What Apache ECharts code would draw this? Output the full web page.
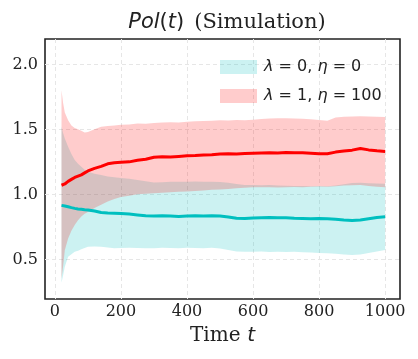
<!DOCTYPE html>
<html>
<head>
<meta charset="utf-8">
<script src="https://cdn.jsdelivr.net/npm/echarts@6/dist/echarts.min.js"></script>
<style>
  html, body { margin: 0; padding: 0; background: #fff; }
  #vis { width: 418px; height: 359px; }
</style>
</head>
<body>
<div id="vis"></div>
<script>
// time steps
const time = [20, 25, 30, 40, 50, 60, 70, 80, 90, 100, 120, 140, 160, 180, 200,
  225, 250, 275, 300, 325, 350, 375, 400, 425, 450, 475, 500, 525, 550, 575, 600,
  625, 650, 675, 700, 725, 750, 775, 800, 825, 850, 875, 900, 925, 950, 975, 1000];

// lambda = 0, eta = 0 (cyan)
const cyanMean = [0.915, 0.912, 0.91, 0.905, 0.898, 0.892, 0.888, 0.885, 0.882, 0.88, 0.872, 0.86, 0.857, 0.855, 0.852,
  0.848, 0.842, 0.836, 0.834, 0.836, 0.834, 0.83, 0.833, 0.835, 0.834, 0.836, 0.833, 0.826, 0.816, 0.815, 0.818,
  0.82, 0.822, 0.82, 0.82, 0.817, 0.815, 0.813, 0.815, 0.813, 0.808, 0.803, 0.799, 0.802, 0.812, 0.822, 0.828];
const cyanLow = [0.32, 0.38, 0.443, 0.52, 0.54, 0.558, 0.567, 0.577, 0.588, 0.597, 0.598, 0.596, 0.592, 0.586, 0.588,
  0.59, 0.587, 0.585, 0.586, 0.59, 0.588, 0.585, 0.59, 0.588, 0.586, 0.589, 0.584, 0.572, 0.56, 0.558, 0.558,
  0.56, 0.557, 0.559, 0.556, 0.558, 0.555, 0.552, 0.548, 0.546, 0.543, 0.538, 0.533, 0.537, 0.548, 0.56, 0.572];
const cyanHigh = [1.52, 1.47, 1.43, 1.366, 1.31, 1.264, 1.235, 1.212, 1.19, 1.174, 1.158, 1.148, 1.138, 1.132, 1.125,
  1.12, 1.11, 1.1, 1.092, 1.094, 1.096, 1.097, 1.097, 1.098, 1.096, 1.097, 1.095, 1.09, 1.08, 1.072, 1.071,
  1.07, 1.072, 1.068, 1.066, 1.064, 1.064, 1.062, 1.065, 1.063, 1.068, 1.078, 1.088, 1.09, 1.086, 1.084, 1.082];

// lambda = 1, eta = 100 (red)
const redMean = [1.07, 1.075, 1.08, 1.1, 1.115, 1.13, 1.14, 1.15, 1.165, 1.18, 1.2, 1.215, 1.235, 1.243, 1.247,
  1.25, 1.262, 1.27, 1.285, 1.29, 1.288, 1.292, 1.296, 1.298, 1.302, 1.305, 1.31, 1.312, 1.31, 1.314, 1.316,
  1.318, 1.32, 1.318, 1.322, 1.32, 1.32, 1.316, 1.312, 1.312, 1.325, 1.333, 1.34, 1.353, 1.342, 1.335, 1.33];
const redLow = [0.35, 0.45, 0.57, 0.66, 0.72, 0.764, 0.8, 0.83, 0.85, 0.865, 0.895, 0.92, 0.945, 0.965, 0.98,
  0.99, 1.0, 1.005, 1.008, 1.012, 1.016, 1.02, 1.022, 1.026, 1.03, 1.035, 1.038, 1.042, 1.046, 1.05, 1.054,
  1.055, 1.054, 1.052, 1.055, 1.056, 1.054, 1.058, 1.06, 1.058, 1.062, 1.068, 1.07, 1.072, 1.065, 1.058, 1.055];
const redHigh = [1.8, 1.7, 1.63, 1.57, 1.53, 1.51, 1.5, 1.49, 1.475, 1.48, 1.5, 1.52, 1.525, 1.53, 1.535,
  1.538, 1.545, 1.543, 1.548, 1.552, 1.555, 1.552, 1.558, 1.562, 1.565, 1.566, 1.57, 1.568, 1.572, 1.57, 1.574,
  1.58, 1.584, 1.586, 1.585, 1.584, 1.582, 1.578, 1.572, 1.566, 1.592, 1.597, 1.598, 1.6, 1.598, 1.596, 1.595];

const xTicks = [0, 200, 400, 600, 800, 1000];
const yTicks = [0.5, 1.0, 1.5, 2.0];

const legendNames = {
  lam0: '{i|λ} = 0, {i|η} = 0',
  lam1: '{i|λ} = 1, {i|η} = 100'
};

const chart = echarts.init(document.getElementById('vis'), null, { renderer: 'canvas' });

function bandSeries(name, low, high, color) {
  return {
    name: name,
    type: 'custom',
    itemStyle: { color: color },
    encode: { x: 0, y: [1, 2] },
    data: time.map((t, i) => [t, low[i], high[i]]),
    renderItem: function (params, api) {
      if (params.dataIndex !== 0) return null;
      const pts = [];
      for (let i = 0; i < time.length; i++) pts.push(api.coord([time[i], high[i]]));
      for (let i = time.length - 1; i >= 0; i--) pts.push(api.coord([time[i], low[i]]));
      return { type: 'polygon', shape: { points: pts }, style: { fill: color }, silent: true };
    }
  };
}

function meanSeries(name, values, color) {
  return {
    name: name + '_mean',
    type: 'line',
    data: time.map((t, i) => [t, values[i]]),
    showSymbol: false,
    lineStyle: { color: color, width: 3 },
    itemStyle: { color: color },
    silent: true
  };
}

const grid = { left: 45, right: 18, top: 39, bottom: 60 };
const gridLine = { show: true, lineStyle: { color: '#e6e6e6', width: 1, type: [4, 3] } };

chart.setOption({
  animation: false,
  backgroundColor: '#fff',
  title: {
    text: '{it|Pol}{n|(}{it|t}{n|)}  {s|(Simulation)}',
    left: 222,
    top: 7,
    textAlign: 'center',
    textStyle: {
      fontWeight: 'normal',
      rich: {
        it: { fontFamily: 'DejaVu Sans', fontStyle: 'italic', fontWeight: 'normal', fontSize: 21, color: '#222' },
        n: { fontFamily: 'DejaVu Sans', fontWeight: 'normal', fontSize: 21, color: '#222' },
        s: { fontFamily: 'DejaVu Serif', fontWeight: 'normal', fontSize: 21, color: '#222' }
      }
    }
  },
  grid: Object.assign({ show: true, borderColor: '#222', borderWidth: 1.6, backgroundColor: '#fff' }, grid),
  legend: {
    orient: 'vertical',
    left: 215,
    top: 54,
    itemWidth: 37,
    itemHeight: 14,
    itemGap: 13,
    icon: 'rect',
    data: ['lam0', 'lam1'],
    formatter: n => legendNames[n],
    textStyle: {
      fontFamily: 'DejaVu Sans',
      fontSize: 16,
      color: '#222',
      padding: [0, 0, 0, 2],
      rich: {
        i: { fontFamily: 'DejaVu Sans', fontStyle: 'italic', fontSize: 16, color: '#222' }
      }
    }
  },
  xAxis: {
    type: 'value',
    min: -30,
    max: 1045,
    name: '{s|Time}  {it|t}',
    nameLocation: 'middle',
    nameGap: 27,
    nameTextStyle: {
      rich: {
        s: { fontFamily: 'DejaVu Serif', fontSize: 20, color: '#222' },
        it: { fontFamily: 'DejaVu Sans', fontStyle: 'italic', fontSize: 20, color: '#222' }
      }
    },
    axisLine: { show: false },
    axisTick: { show: false, customValues: xTicks },
    axisLabel: {
      customValues: xTicks,
      fontFamily: 'DejaVu Serif', fontSize: 16, color: '#222', margin: 5,
      formatter: v => String(v)
    },
    splitLine: gridLine
  },
  yAxis: {
    type: 'value',
    min: 0.195,
    max: 2.195,
    axisLine: { show: false },
    axisTick: { show: false, customValues: yTicks },
    axisLabel: {
      customValues: yTicks,
      fontFamily: 'DejaVu Serif', fontSize: 16, color: '#222', margin: 7,
      formatter: v => v.toFixed(1)
    },
    splitLine: gridLine
  },
  series: [
    bandSeries('lam0', cyanLow, cyanHigh, 'rgba(0,191,191,0.2)'),
    bandSeries('lam1', redLow, redHigh, 'rgba(255,0,0,0.2)'),
    meanSeries('lam0', cyanMean, '#00bfbf'),
    meanSeries('lam1', redMean, '#ff0000')
  ]
});
</script>
</body>
</html>
